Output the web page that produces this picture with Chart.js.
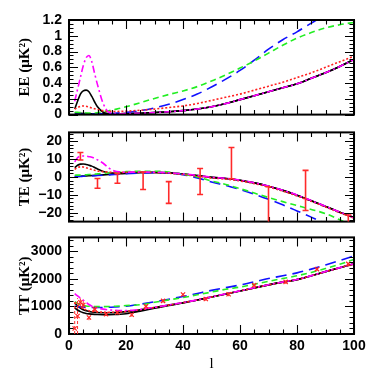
<!DOCTYPE html>
<html><head><meta charset="utf-8">
<script src="https://cdn.jsdelivr.net/npm/chart.js@4.4.1/dist/chart.umd.min.js"></script>
<style>
html,body{margin:0;padding:0;background:#fff;}
#wrap{position:relative;width:374px;height:374px;overflow:hidden;background:#fff;}
.box{position:absolute;left:0;width:374px;}
</style></head><body>
<div id="wrap">
<div class="box" style="top:0px;height:130px"><canvas id="cEE"></canvas></div>
<div class="box" style="top:117px;height:120px"><canvas id="cTE"></canvas></div>
<div class="box" style="top:222px;height:152px"><canvas id="cTT"></canvas></div>
</div>
<script>
// ---------- data ----------
const ell = [2,3,4,5,6,7,8,9,10,12,14,16,18,20,25,30,35,40,45,50,55,60,65,70,75,80,85,90,95,100];
const xTicks = [0,20,40,60,80,100];

const eeTicks = [0,0.2,0.4,0.6,0.8,1,1.2];
const eeBlack1  = [0.07,0.17,0.26,0.30,0.31,0.29,0.23,0.16,0.10,0.03,0.012,0.009,0.01,0.012,0.018,0.026,0.036,0.05,0.07,0.10,0.14,0.19,0.24,0.29,0.34,0.39,0.46,0.53,0.61,0.70];
const eeBlack2  = [0.02,0.018,0.016,0.014,0.012,0.011,0.01,0.01,0.009,0.009,0.009,0.009,0.01,0.012,0.018,0.026,0.036,0.05,0.07,0.10,0.14,0.19,0.24,0.29,0.34,0.39,0.46,0.53,0.61,0.70];
const eeMagenta = [0.17,0.32,0.47,0.62,0.72,0.75,0.67,0.52,0.38,0.14,0.03,0.014,0.011,0.012,0.018,0.026,0.036,0.05,0.07,0.10,0.14,0.19,0.24,0.29,0.34,0.39,0.46,0.53,0.61,0.70];
const eeRed     = [0.07,0.09,0.105,0.11,0.105,0.095,0.085,0.075,0.065,0.05,0.042,0.04,0.041,0.044,0.055,0.07,0.09,0.11,0.14,0.18,0.22,0.26,0.31,0.36,0.41,0.47,0.53,0.60,0.67,0.74];
const eeGreen   = [0.03,0.028,0.025,0.022,0.02,0.02,0.02,0.021,0.025,0.035,0.05,0.065,0.08,0.10,0.15,0.205,0.255,0.30,0.355,0.425,0.505,0.59,0.68,0.78,0.88,0.97,1.04,1.10,1.14,1.17];
const eeBlue    = [0.005,0.005,0.005,0.005,0.005,0.006,0.006,0.007,0.008,0.01,0.013,0.017,0.022,0.028,0.05,0.085,0.13,0.19,0.26,0.35,0.45,0.56,0.69,0.83,0.95,1.05,1.16,1.27,1.36,1.44];

const teTicks = [-20,-10,0,10,20];
const teBlack1  = [5.2,6.6,7.2,7.3,7.0,6.6,6.1,5.3,4.5,3.1,2.4,2.2,2.3,2.5,2.7,2.6,2.3,1.7,0.8,-0.2,-0.8,-1.8,-3.3,-5.2,-7.5,-10.2,-13.3,-16.5,-19.7,-22.8];
const teBlack2  = [0.3,0.35,0.4,0.5,0.6,0.7,0.8,0.9,1.0,1.2,1.4,1.6,1.8,2.0,2.4,2.5,2.3,1.7,0.8,-0.2,-0.8,-1.8,-3.3,-5.2,-7.5,-10.2,-13.3,-16.5,-19.7,-22.8];
const teMagenta = [8.5,10.8,11.7,11.8,11.7,11.4,11.1,10.4,9.6,7.7,5.0,3.3,2.8,2.7,2.8,2.7,2.4,1.8,0.9,-0.1,-0.7,-1.7,-3.2,-5.1,-7.4,-10.1,-13.2,-16.4,-19.6,-22.7];
const teRed     = [4.3,5.3,5.7,5.6,5.2,4.7,4.2,3.8,3.4,3.0,2.7,2.6,2.6,2.6,2.7,2.5,2.1,1.4,0.5,-0.5,-1.2,-2.2,-3.7,-5.6,-7.9,-10.6,-13.6,-16.8,-20.0,-23.0];
const teGreen   = [1.0,1.05,1.1,1.2,1.3,1.4,1.5,1.6,1.8,2.1,2.4,2.7,2.9,3.0,3.2,3.2,2.8,1.6,0.0,-2.2,-4.2,-6.5,-9.0,-11.5,-13.8,-16.0,-18.2,-20.5,-24.0,-27.5];
const teBlue    = [0.2,0.25,0.3,0.4,0.45,0.5,0.6,0.7,0.8,1.0,1.2,1.4,1.6,1.8,2.2,2.4,2.2,1.3,-0.5,-2.8,-4.7,-7.0,-9.6,-12.5,-15.6,-19.0,-22.5,-26.0,-29.5,-33.0];
// TE binned data (error bars)
const teBarL  = [4,10,17,26,35,46,57,70,83,98];
const teBarLo = [9.5,-6.3,-3.5,-7.0,-14.8,-9.8,-1.0,-28,-18.8,-28];
const teBarHi = [13.7,-0.8,1.9,2.8,-2.6,4.8,16.5,-5.5,3.7,-21.3];

const ttTicks = [0,1000,2000,3000];
const ttBlack1  = [1120,1020,940,880,840,815,800,790,780,770,770,775,790,810,880,960,1045,1135,1230,1340,1450,1560,1670,1780,1880,1970,2110,2260,2400,2540];
const ttBlack2  = [950,870,810,770,745,730,720,712,705,700,700,705,715,735,830,930,1030,1125,1230,1340,1450,1560,1670,1780,1880,1970,2110,2260,2400,2540];
const ttMagenta = [1460,1380,1300,1230,1150,1070,1010,970,940,900,875,860,850,850,890,965,1050,1140,1235,1345,1455,1565,1675,1785,1885,1975,2115,2265,2405,2545];
const ttRed     = [1150,1060,980,920,875,845,825,810,800,790,788,790,800,815,880,960,1045,1135,1230,1340,1450,1560,1670,1780,1880,1970,2110,2260,2400,2540];
const ttGreen   = [1170,1110,1065,1035,1015,1005,1000,995,993,993,997,1005,1015,1030,1060,1150,1235,1320,1420,1520,1620,1700,1800,1910,2010,2110,2230,2370,2530,2700];
const ttBlue    = [1010,995,985,975,970,965,962,960,960,962,968,978,990,1005,1080,1165,1260,1360,1470,1580,1680,1775,1890,2010,2110,2215,2350,2500,2660,2830];
// TT measured points
const ttPtL  = [2,3,4,5,7,9,13,17,22,27,33,40,48,56,65,76,87,98];
const ttPtV  = [200,650,1150,1050,600,900,720,780,700,1000,1200,1430,1270,1440,1770,1890,2350,2540];
const ttPtLo = [0,0,1000,900,500,800,650,710,630,930,1130,1360,1200,1370,1700,1820,2280,2470];
const ttPtHi = [1150,1300,1300,1200,700,1000,790,850,770,1070,1270,1500,1340,1510,1840,1960,2420,2610];

// ---------- styling ----------
Chart.defaults.font.family = 'Liberation Sans';
const tickFont  = {family:'Liberation Sans', size:14, weight:'bold'};
const titleFont = {family:'Liberation Serif', size:15, weight:'bold'};
const sty = {
  magenta:{borderColor:'#ff00ff', borderWidth:1.6, borderDash:[7,3,2,3]},
  red:    {borderColor:'#ff2020', borderWidth:1.6, borderDash:[2,2]},
  green:  {borderColor:'#22ee22', borderWidth:1.6, borderDash:[6,4]},
  blue:   {borderColor:'#1010ff', borderWidth:1.6, borderDash:[11,6]},
  black:  {borderColor:'#000000', borderWidth:1.6}
};
function line(vals, s) {
  return Object.assign({data: vals.map((v,i)=>({x:ell[i], y:v})), fill:false, pointRadius:0,
    cubicInterpolationMode:'monotone'}, s);
}

const frameTicks = {
  id:'frameTicks',
  afterDatasetsDraw(chart, args, o) {
    const {ctx, chartArea:a, scales:{x,y}} = chart;
    ctx.save();
    ctx.strokeStyle = '#000';
    ctx.lineWidth = 1.1;
    ctx.beginPath();
    const seg = (x1,y1,x2,y2)=>{ctx.moveTo(x1,y1);ctx.lineTo(x2,y2);};
    for (let k = Math.ceil(x.min/o.xMinor); k*o.xMinor <= x.max+1e-9; k++) {
      const v = k*o.xMinor, px = Math.round(x.getPixelForValue(v))+0.5;
      const major = xTicks.some(t=>Math.abs(t-v)<1e-9);
      const L = major ? 9 : 4.5;
      seg(px,a.bottom,px,a.bottom-L); seg(px,a.top,px,a.top+L);
    }
    for (let k = Math.ceil(y.min/o.yMinor-1e-9); k*o.yMinor <= y.max+1e-9; k++) {
      const v = k*o.yMinor, py = Math.round(y.getPixelForValue(v))+0.5;
      const major = o.yMajor.some(t=>Math.abs(t-v)<1e-9);
      const L = major ? 9 : 4.5;
      seg(a.left,py,a.left+L,py); seg(a.right,py,a.right-L,py);
    }
    ctx.stroke();
    ctx.lineWidth = 2;
    ctx.strokeRect(a.left, a.top, a.right-a.left, a.bottom-a.top);
    ctx.restore();
  }
};

const errorBars = {
  id:'errorBars',
  afterDatasetsDraw(chart, args, o) {
    if (!o.L) return;
    const {ctx, chartArea:a, scales:{x,y}} = chart;
    ctx.save();
    ctx.beginPath(); ctx.rect(a.left,a.top,a.right-a.left,a.bottom-a.top); ctx.clip();
    ctx.strokeStyle = o.color; ctx.lineWidth = o.width;
    ctx.setLineDash(o.dash || []);
    o.L.forEach((l,i)=>{
      const px = x.getPixelForValue(l);
      const p1 = y.getPixelForValue(o.lo[i]), p2 = y.getPixelForValue(o.hi[i]);
      ctx.beginPath();
      ctx.moveTo(px,p1); ctx.lineTo(px,p2);
      if (o.cap) { ctx.moveTo(px-o.cap,p1); ctx.lineTo(px+o.cap,p1); ctx.moveTo(px-o.cap,p2); ctx.lineTo(px+o.cap,p2); }
      ctx.stroke();
    });
    ctx.restore();
  }
};

function makeChart(id, cfg) {
  return new Chart(document.getElementById(id), {
    type:'line',
    data:{datasets: cfg.datasets},
    options:{
      responsive:true, maintainAspectRatio:false, animation:false, devicePixelRatio:1,
      layout:{padding:{left:0, right:20, top:cfg.padTop, bottom:cfg.padBottom}},
      plugins:{legend:{display:false}, tooltip:{enabled:false},
        frameTicks:{xMinor:5, yMinor:cfg.yMinor, yMajor:cfg.yTicks},
        errorBars: cfg.bars || {}},
      scales:{
        x:{type:'linear', min:0, max:100, display:cfg.showX,
          grid:{display:false, drawTicks:false}, border:{display:false},
          afterBuildTicks:s=>{s.ticks = xTicks.map(v=>({value:v}));},
          afterFit:s=>{s.height = cfg.showX ? 40 : 0;},
          ticks:{padding:4, font:tickFont, color:'#000', maxRotation:0, autoSkip:false},
          title:{display:true, text:'l', color:'#000', font:{family:'Liberation Serif', size:15}, padding:{top:0,bottom:1}}},
        y:{type:'linear', min:cfg.yMin, max:cfg.yMax,
          grid:{display:false, drawTicks:false}, border:{display:false},
          afterBuildTicks:s=>{s.ticks = cfg.yTicks.map(v=>({value:v}));},
          afterFit:s=>{s.width = 69;},
          ticks:{padding:7, font:tickFont, color:'#000', autoSkip:false,
            callback:v=>{const n = +(+v).toFixed(2); return n < 0 ? '\u2212' + Math.abs(n) : String(n);}},
          title:{display:true, text:cfg.yTitle, color:'#000', font:titleFont, padding:{top:16,bottom:0}}}
      }
    },
    plugins:[frameTicks, errorBars]
  });
}

makeChart('cEE', {
  padTop:20, padBottom:10, showX:false, yMin:0, yMax:1.2, yTicks:eeTicks, yMinor:0.05,
  yTitle:'EE (\u03BCK\u00B2)',
  datasets:[line(eeMagenta,sty.magenta), line(eeRed,sty.red), line(eeGreen,sty.green),
            line(eeBlue,sty.blue), line(eeBlack1,sty.black), line(eeBlack2,sty.black)]
});
makeChart('cTE', {
  padTop:9, padBottom:10, showX:false, yMin:-25, yMax:25, yTicks:teTicks, yMinor:2,
  yTitle:'TE (\u03BCK\u00B2)',
  bars:{L:teBarL, lo:teBarLo, hi:teBarHi, color:'#ff2a2a', width:1.6, cap:3},
  datasets:[line(teMagenta,sty.magenta), line(teRed,sty.red), line(teGreen,sty.green),
            line(teBlue,sty.blue), line(teBlack1,sty.black), line(teBlack2,sty.black)]
});
makeChart('cTT', {
  padTop:10, padBottom:0, showX:true, yMin:0, yMax:3500, yTicks:ttTicks, yMinor:200,
  yTitle:'TT (\u03BCK\u00B2)',
  bars:{L:ttPtL, lo:ttPtLo, hi:ttPtHi, color:'#ff3030', width:1, dash:[3,2], cap:0},
  datasets:[
    {data:ttPtL.map((l,i)=>({x:l,y:ttPtV[i]})), showLine:false, pointStyle:'crossRot', pointRadius:3,
     pointBorderColor:'#ff2020', pointBorderWidth:1.2, borderColor:'#ff2020'},
    line(ttMagenta,sty.magenta), line(ttRed,sty.red), line(ttGreen,sty.green),
    line(ttBlue,sty.blue), line(ttBlack1,sty.black), line(ttBlack2,sty.black)]
});
</script>
</body></html>
